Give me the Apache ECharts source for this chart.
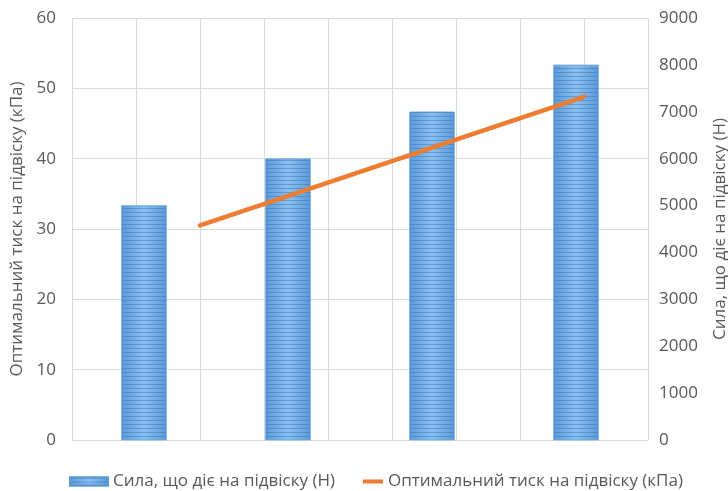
<!DOCTYPE html>
<html>
<head>
<meta charset="utf-8">
<script src="https://cdn.jsdelivr.net/npm/echarts@6/dist/echarts.min.js"></script>
<style>html,body{margin:0;padding:0;background:#fff}#c{width:728px;height:491px}</style>
</head>
<body>
<div id="c"></div>
<script>
const categories = ['1', '2', '3', '4'];
const forceN = [5000, 6000, 7000, 8000];
const pressureKPa = [30.5, 36.6, 42.7, 48.8];
const lineSlots = ['0', '1', '2', '3', '4', '5', '6', '7', '8', '9'];
const leftTicks = [0, 10, 20, 30, 40, 50, 60];
const rightTicks = [0, 1000, 2000, 3000, 4000, 5000, 6000, 7000, 8000, 9000];
const barName = 'Сила, що діє на підвіску (Н)';
const lineName = 'Оптимальний тиск на підвіску (кПа)';

// place the pressure points on the secondary axis slots 2,4,6,8
const lineData = lineSlots.map(() => null);
pressureKPa.forEach((v, i) => { lineData[2 + 2 * i] = v; });

const font = 'Open Sans';
const textColor = '#595959';
const gridColor = '#d9d9d9';

const barColor = new echarts.graphic.LinearGradient(0, 0, 1, 0, [
  { offset: 0, color: '#5b9bd8' },
  { offset: 0.5, color: '#8cc0ee' },
  { offset: 1, color: '#5b9bd8' }
]);

const chart = echarts.init(document.getElementById('c'));
chart.setOption({
  animation: false,
  backgroundColor: '#fff',
  grid: { left: 72, right: 80, top: 18, bottom: 51, outerBoundsMode: 'none', containLabel: false },
  legend: [
    {
      left: 64, top: 468,
      itemWidth: 38, itemHeight: 8,
      textStyle: { fontFamily: font, fontSize: 17, color: textColor },
      data: [{ name: barName, icon: 'rect' }]
    },
    {
      left: 358, top: 468,
      itemWidth: 20, itemHeight: 8,
      textStyle: { fontFamily: font, fontSize: 17, color: textColor },
      data: [{ name: lineName, icon: 'path://M0,0H5V1H0Z', itemStyle: { color: '#ed7d31' } }]
    }
  ],
  xAxis: [
    {
      type: 'category', data: categories, position: 'bottom',
      axisLine: { show: true, lineStyle: { color: gridColor, width: 1 } },
      axisTick: { show: false }, axisLabel: { show: false }, splitLine: { show: false }
    },
    {
      type: 'category', data: lineSlots, boundaryGap: false, position: 'top',
      axisLine: { show: false }, axisTick: { show: false }, axisLabel: { show: false },
      splitLine: { show: true, lineStyle: { color: gridColor, width: 1 } }
    }
  ],
  yAxis: [
    {
      type: 'value', min: leftTicks[0], max: leftTicks[leftTicks.length - 1], interval: leftTicks[1] - leftTicks[0],
      name: lineName, nameLocation: 'middle', nameGap: 44, nameRotate: 90,
      nameTextStyle: { fontFamily: font, fontSize: 17, color: textColor },
      axisLine: { show: false }, axisTick: { show: false },
      axisLabel: { margin: 16, fontFamily: font, fontSize: 17, color: textColor, formatter: v => String(v) },
      splitLine: { show: true, lineStyle: { color: gridColor, width: 1 } }
    },
    {
      type: 'value', min: rightTicks[0], max: rightTicks[rightTicks.length - 1], interval: rightTicks[1] - rightTicks[0],
      name: barName, nameLocation: 'middle', nameGap: 64, nameRotate: 90,
      nameTextStyle: { fontFamily: font, fontSize: 17, color: textColor },
      axisLine: { show: false }, axisTick: { show: false },
      axisLabel: { margin: 11, fontFamily: font, fontSize: 17, color: textColor, formatter: v => String(v) },
      splitLine: { show: false }
    }
  ],
  series: [
    {
      name: barName, type: 'bar', xAxisIndex: 0, yAxisIndex: 1, data: forceN, barWidth: 45,
      itemStyle: {
        color: barColor,
        borderColor: '#5b9bd5', borderWidth: 0.5,
        decal: { symbol: 'rect', dashArrayX: [1, 0], dashArrayY: [1, 2.5], rotation: 0, color: 'rgba(50,110,190,0.45)', symbolSize: 1 }
      }
    },
    {
      name: lineName, type: 'line', xAxisIndex: 1, yAxisIndex: 0, data: lineData, connectNulls: true,
      showSymbol: false, symbol: 'none',
      lineStyle: { color: '#ed7d31', width: 4.5, cap: 'round' },
      itemStyle: { color: '#ed7d31' }
    }
  ]
});
</script>
</body>
</html>
